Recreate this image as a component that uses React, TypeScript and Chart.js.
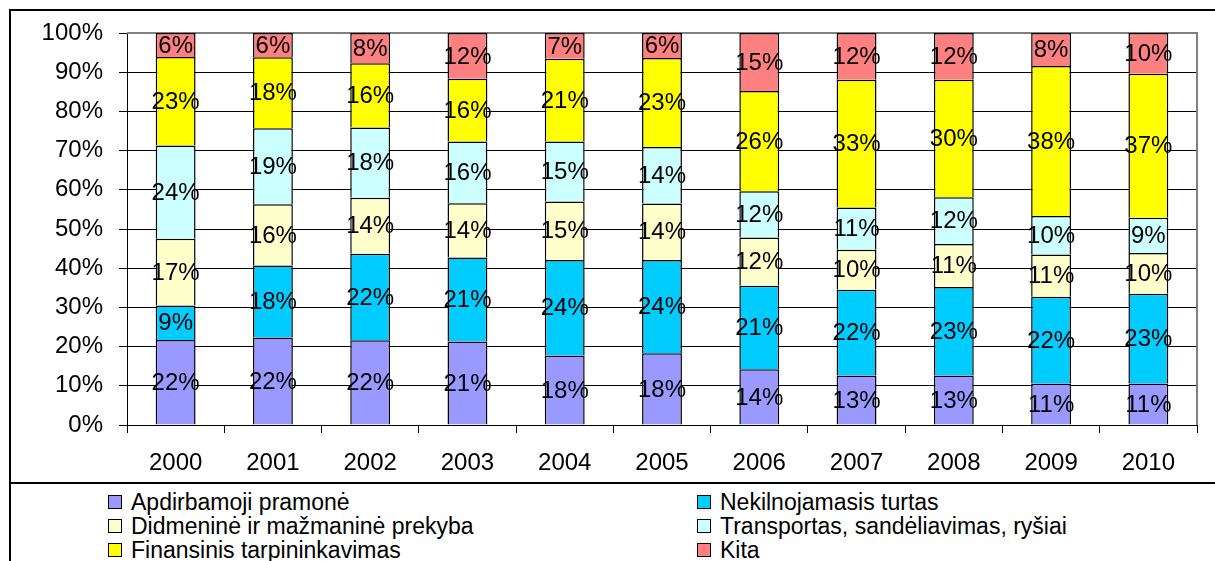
import React, { useEffect, useRef } from "react";
import { Chart, registerables } from "chart.js";

Chart.register(...registerables);

const years = ["2000", "2001", "2002", "2003", "2004", "2005", "2006", "2007", "2008", "2009", "2010"];
const seriesNames = [
  "Apdirbamoji pramonė",
  "Nekilnojamasis turtas",
  "Didmeninė ir mažmaninė prekyba",
  "Transportas, sandėliavimas, ryšiai",
  "Finansinis tarpininkavimas",
  "Kita",
];
const apdirbamoji = [21.7, 22.3, 21.6, 21.3, 17.7, 18.3, 14.2, 12.6, 12.6, 10.6, 10.6];
const nekilnojamasis = [8.8, 18.4, 22.1, 21.4, 24.4, 23.8, 21.3, 21.9, 22.6, 22.1, 22.9];
const didmenine = [17.0, 15.6, 14.3, 13.9, 14.9, 14.4, 12.3, 10.2, 11.0, 10.8, 10.4];
const transportas = [23.8, 19.4, 17.9, 15.7, 15.3, 14.4, 11.8, 10.8, 11.9, 9.8, 9.0];
const finansinis = [22.6, 18.1, 16.4, 16.0, 21.1, 22.7, 25.6, 32.6, 30.0, 38.3, 36.7];
const kita = [6.1, 6.2, 7.7, 11.7, 6.6, 6.4, 14.8, 11.9, 11.9, 8.4, 10.4];
const seriesValues = [apdirbamoji, nekilnojamasis, didmenine, transportas, finansinis, kita];
const seriesColors = ["#9999FF", "#00CCFF", "#FFFFCC", "#CCFFFF", "#FFFF00", "#FF8080"];
const yTicks = [0, 10, 20, 30, 40, 50, 60, 70, 80, 90, 100];

const FONT = '"Liberation Sans", Arial, sans-serif';

const labelPlugin = {
  id: "segLabels",
  beforeDatasetsDraw(chart: any) {
    const { ctx, chartArea } = chart;
    ctx.save();
    ctx.strokeStyle = "#808080";
    ctx.lineWidth = 2;
    ctx.beginPath();
    ctx.moveTo(chartArea.left, chartArea.top);
    ctx.lineTo(chartArea.right, chartArea.top);
    ctx.lineTo(chartArea.right, chartArea.bottom);
    ctx.stroke();
    ctx.restore();
  },
  afterDatasetsDraw(chart: any) {
    const { ctx } = chart;
    ctx.save();
    ctx.font = `24px ${FONT}`;
    ctx.fillStyle = "#000";
    ctx.textAlign = "center";
    ctx.textBaseline = "middle";
    chart.data.datasets.forEach((ds: any, i: number) => {
      const meta = chart.getDatasetMeta(i);
      meta.data.forEach((bar: any, j: number) => {
        const v = ds.data[j];
        const p = bar.getProps(["x", "y", "base"], true);
        ctx.fillText(Math.round(v) + "%", p.x, (p.y + p.base) / 2 + 1);
      });
    });
    ctx.restore();
  },
};

export default function App() {
  const ref = useRef<HTMLCanvasElement>(null);

  useEffect(() => {
    const canvas = ref.current!;
    const chart = new Chart(canvas, {
      type: "bar",
      data: {
        labels: years,
        datasets: seriesNames.map((name, i) => ({
          label: name,
          data: seriesValues[i],
          backgroundColor: seriesColors[i],
          borderColor: "#000",
          borderWidth: 1.5,
          categoryPercentage: 1,
          barPercentage: 0.41,
        })),
      },
      options: {
        responsive: false,
        animation: false,
        devicePixelRatio: 1,
        layout: { padding: { top: 33, right: 18, left: 0, bottom: 0 } },
        plugins: { legend: { display: false }, tooltip: { enabled: false } },
        scales: {
          x: {
            stacked: true,
            grid: {
              display: true,
              drawOnChartArea: false,
              drawTicks: true,
              tickLength: 8,
              color: "#000",
              offset: true,
            },
            border: { color: "#000", width: 1 },
            ticks: { color: "#000", font: { family: FONT, size: 24 }, padding: 16, maxRotation: 0 },
            afterFit: (s: any) => {
              s.height = 57;
            },
          },
          y: {
            stacked: true,
            min: 0,
            max: 100,
            afterBuildTicks: (s: any) => {
              s.ticks = yTicks.map((v) => ({ value: v }));
            },
            ticks: {
              color: "#000",
              font: { family: FONT, size: 24 },
              padding: 16,
              callback: (v: any) => v + "%",
            },
            grid: { color: "#000", tickLength: 8, lineWidth: 1 },
            border: { color: "#000", width: 1 },
            afterFit: (s: any) => {
              s.width = 127;
            },
          },
        },
      },
      plugins: [labelPlugin],
    });
    return () => chart.destroy();
  }, []);

  return (
    <div
      style={{
        position: "fixed",
        left: 0,
        top: 0,
        width: 1215,
        height: 561,
        overflow: "hidden",
        background: "#fff",
        fontFamily: FONT,
      }}
    >
      <div
        style={{
          position: "absolute",
          left: 9,
          top: 9,
          width: 1400,
          height: 800,
          border: "2px solid #000",
        }}
      />
      <div style={{ position: "absolute", left: 10, top: 482, width: 1300, height: 2, background: "#000" }} />
      <canvas ref={ref} width={1215} height={482} style={{ position: "absolute", left: 0, top: 0 }} />
      {seriesNames.map((name, i) => {
        const col = i % 2;
        const row = Math.floor(i / 2);
        const bx = col === 0 ? 108 : 697;
        const by = 495 + row * 24;
        return (
          <React.Fragment key={name}>
            <div
              style={{
                position: "absolute",
                left: bx,
                top: by,
                width: 12,
                height: 12,
                background: seriesColors[i],
                border: "1.5px solid #000",
              }}
            />
            <div
              style={{
                position: "absolute",
                left: bx + 23,
                top: by - 5,
                fontSize: 23,
                lineHeight: "24px",
                whiteSpace: "nowrap",
                color: "#000",
              }}
            >
              {name}
            </div>
          </React.Fragment>
        );
      })}
    </div>
  );
}
